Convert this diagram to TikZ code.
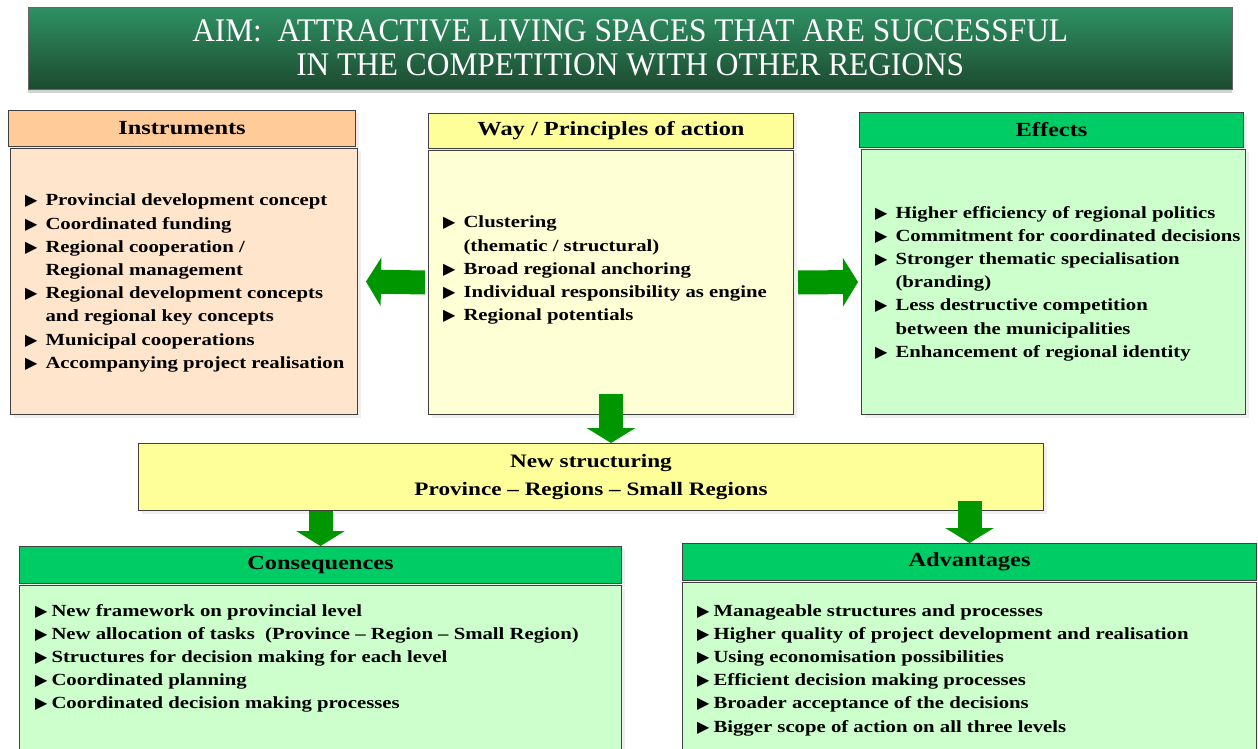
\documentclass[tikz,border=0pt]{standalone}
\usepackage{fontspec}
\setmainfont{Liberation Serif}
\newfontfamily\bodyfont[FakeStretch=1.22]{Liberation Serif}
\newfontfamily\titlefont[FakeStretch=0.95]{Liberation Serif}
\newfontfamily\symfont{DejaVu Sans}
\usetikzlibrary{arrows.meta,shadows}

\definecolor{aimtop}{RGB}{46,145,99}
\definecolor{aimbottom}{RGB}{29,74,48}
\definecolor{instrhead}{RGB}{255,204,153}
\definecolor{instrbody}{RGB}{255,229,204}
\definecolor{wayhead}{RGB}{255,255,153}
\definecolor{waybody}{RGB}{255,255,214}
\definecolor{greenhead}{RGB}{0,204,102}
\definecolor{greenbody}{RGB}{204,255,204}
\definecolor{arrowgreen}{RGB}{0,150,0}

% маркер списка и отступ для продолжения строки
\newcommand\bul[1][8pt]{{\symfont\fontsize{16}{16}\selectfont\char"25B6}\hspace{#1}}
\newcommand\cont{\phantom{\bul}}

\begin{document}
\begin{tikzpicture}[
        x=1pt,y=-1pt
        ,box/.style={draw=black!75,line width=1pt,inner sep=0pt,anchor=north west,
            drop shadow={shadow xshift=3pt,shadow yshift=-3pt,fill=black!12}}
        ,head/.style={box,font=\bodyfont\bfseries\fontsize{20}{22}\selectfont}
        ,txt/.style={anchor=north west,inner sep=0pt,align=left,
            font=\bodyfont\bfseries\fontsize{17}{23.2}\selectfont}
        ,fat/.style={line width=24pt,draw=arrowgreen,
            -{Triangle[length=15pt,width=48pt]}}
    ]
    \useasboundingbox (0,0) rectangle (1258,749);
    \clip (0,0) rectangle (1258,749);
    % Цель
    \node[anchor=north west,minimum width=1204,minimum height=82,inner sep=0pt,
        top color=aimtop,bottom color=aimbottom,draw=black!60,
        drop shadow={shadow xshift=0pt,shadow yshift=-4pt,fill=black!35},
        text=white,align=center,font=\titlefont\fontsize{33}{34}\selectfont]
        (aim) at (28,7) {AIM:\ \ ATTRACTIVE LIVING SPACES THAT ARE SUCCESSFUL\\
        IN THE COMPETITION WITH OTHER REGIONS};
    % Верхний ряд
    \node[head,fill=instrhead,minimum width=347,minimum height=36] (instr-head) at (8,110) {Instruments};
    \node[box,fill=instrbody,minimum width=347,minimum height=266] (instr) at (10,148) {};
    \node[txt] (instr-txt) at (25,194) {\bul Provincial development concept\\
        \bul Coordinated funding\\
        \bul Regional cooperation /\\
        \cont Regional management\\
        \bul Regional development concepts\\
        \cont and regional key concepts\\
        \bul Municipal cooperations\\
        \bul Accompanying project realisation};

    \node[head,fill=wayhead,minimum width=365,minimum height=35] (way-head) at (428,113) {Way / Principles of action};
    \node[box,fill=waybody,minimum width=365,minimum height=264] (way) at (428,150) {};
    \node[txt] (way-txt) at (443,216) {\bul Clustering\\
        \cont (thematic / structural)\\
        \bul Broad regional anchoring\\
        \bul Individual responsibility as engine\\
        \bul Regional potentials};

    \node[head,fill=greenhead,minimum width=384,minimum height=35] (eff-head) at (859,112) {Effects};
    \node[box,fill=greenbody,minimum width=384,minimum height=265] (eff) at (861,149) {};
    \node[txt] (eff-txt) at (875,206) {\bul Higher efficiency of regional politics\\
        \bul Commitment for coordinated decisions\\
        \bul Stronger thematic specialisation\\
        \cont (branding)\\
        \bul Less destructive competition\\
        \cont between the municipalities\\
        \bul Enhancement of regional identity};

    % Новая структура
    \node[box,fill=wayhead,minimum width=905,minimum height=67,align=center,
        font=\bodyfont\bfseries\fontsize{19}{28}\selectfont] (newstr) at (138,443)
        {New structuring\\Province – Regions – Small Regions};

    % Нижний ряд
    \node[head,fill=greenhead,minimum width=602,minimum height=37] (cons-head) at (19,546) {Consequences};
    \node[box,fill=greenbody,minimum width=602,minimum height=200] (cons) at (19,585) {};
    \node[txt] (cons-txt) at (35,604) {\bul[4pt]New framework on provincial level\\
        \bul[4pt]New allocation of tasks\ \ (Province – Region – Small Region)\\
        \bul[4pt]Structures for decision making for each level\\
        \bul[4pt]Coordinated planning\\
        \bul[4pt]Coordinated decision making processes};

    \node[head,fill=greenhead,minimum width=574,minimum height=37] (adv-head) at (682,543) {Advantages};
    \node[box,fill=greenbody,minimum width=574,minimum height=200] (adv) at (682,582) {};
    \node[txt] (adv-txt) at (697,604) {\bul[4pt]Manageable structures and processes\\
        \bul[4pt]Higher quality of project development and realisation\\
        \bul[4pt]Using economisation possibilities\\
        \bul[4pt]Efficient decision making processes\\
        \bul[4pt]Broader acceptance of the decisions\\
        \bul[4pt]Bigger scope of action on all three levels};

    % Стрелки
    \draw[fat,yshift=14pt,shorten <=3pt,shorten >=8pt] (way.west) -- (instr.east);
    \draw[fat,yshift=6pt,shorten <=4pt,shorten >=3pt] (way.east) -- (eff.west);
    \draw[fat,xshift=5pt,shorten <=-21pt] (way.south) -- (way.south |- newstr.north);
    \draw[fat,xshift=-10pt] (newstr.south -| cons-head.north) -- (cons-head.north);
    \draw[fat,xshift=-18pt,shorten <=-10pt] (newstr.south -| adv-head.north) -- (adv-head.north);
\end{tikzpicture}
\end{document}
